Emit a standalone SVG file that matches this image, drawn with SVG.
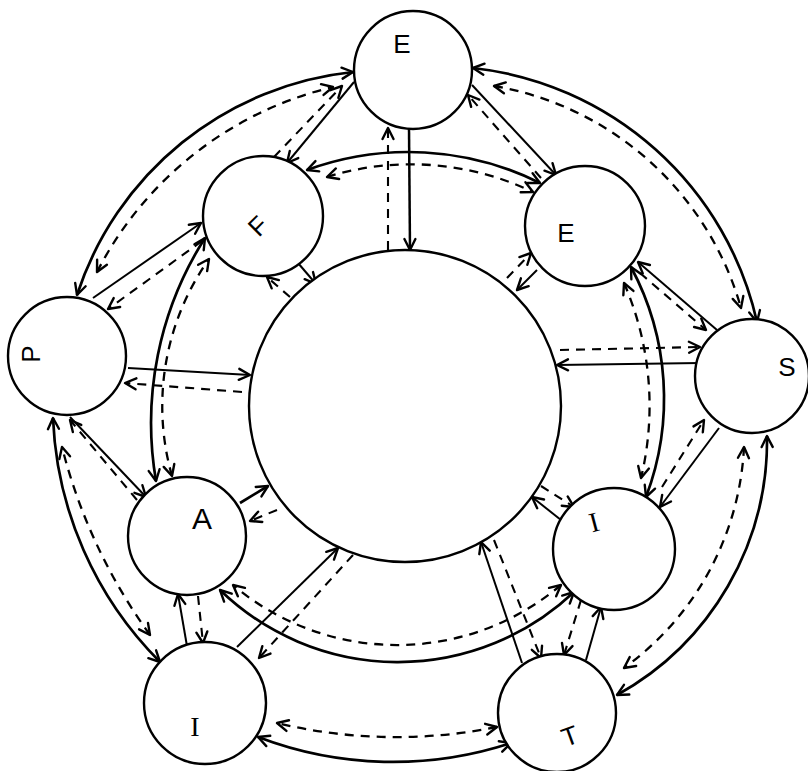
<svg xmlns="http://www.w3.org/2000/svg" width="808" height="771" viewBox="0 0 808 771">
<defs>
<marker id="ah" viewBox="-13 -8 15 16" refX="0" refY="0" markerWidth="15" markerHeight="16" markerUnits="userSpaceOnUse" orient="auto-start-reverse">
<path d="M-11,-5.5 L0,0 L-11,5.5" fill="none" stroke="#000" stroke-width="2.4" stroke-dasharray="none" stroke-linecap="round" stroke-linejoin="round"/>
</marker>
</defs>
<style>
.n{fill:#fff;stroke:#000;stroke-width:2.4}
.s{fill:none;stroke:#000;stroke-width:2;marker-end:url(#ah)}
.d{fill:none;stroke:#000;stroke-width:2.1;stroke-dasharray:9 7;marker-end:url(#ah)}
.arc{marker-start:url(#ah);stroke-width:2.7}
.d.arc{stroke-width:2.3}
.lbl{font-family:"Liberation Sans",Arial,sans-serif;font-size:26px;fill:#000;text-anchor:middle;dominant-baseline:central}
.ser{font-family:"Liberation Serif","Times New Roman",serif;font-size:28px}
</style>
<rect width="808" height="771" fill="#fff"/>
<g id="connectors">
<path class="s arc" d="M473,68 A328,328 0 0 1 757,322"/>
<path class="d arc" d="M494,86 A311,311 0 0 1 741,308"/>
<path class="s arc" d="M767,436 A291,291 0 0 1 617,695"/>
<path class="d arc" d="M744,447 A290,290 0 0 1 624,668"/>
<path class="s arc" d="M511,743 A378,378 0 0 1 258,737"/>
<path class="d arc" d="M497,727 A510,510 0 0 1 277,723"/>
<path class="s arc" d="M160,662 A366,366 0 0 1 53,418"/>
<path class="d arc" d="M150,635 A551,551 0 0 1 62,447"/>
<path class="s arc" d="M77,295 A326,326 0 0 1 353,72"/>
<path class="d arc" d="M97,272 A358,358 0 0 1 333,87"/>
<path class="s arc" d="M307,170 A295,295 0 0 1 540,183"/>
<path class="d arc" d="M327,177 A283,283 0 0 1 533,192"/>
<path class="s arc" d="M631,267 A278,278 0 0 1 646,497"/>
<path class="d arc" d="M624,283 A308,308 0 0 1 641,478"/>
<path class="s arc" d="M574,592 A256,256 0 0 1 220,590"/>
<path class="d arc" d="M561,585 A254,254 0 0 1 233,585"/>
<path class="s arc" d="M156,481 A344,344 0 0 1 205,238"/>
<path class="d arc" d="M172,476 A255,255 0 0 1 209,259"/>
<path class="s" d="M354,82 L287,163"/>
<path class="s" d="M472,85 L556,175"/>
<path class="s" d="M93,298 L201,223"/>
<path class="s" d="M70,417 L146,497"/>
<path class="s" d="M188,652 L178,594"/>
<path class="s" d="M237,647 L338,548"/>
<path class="s" d="M586,660 L601,607"/>
<path class="s" d="M522,663 L481,542"/>
<path class="s" d="M561,520 L532,497"/>
<path class="s" d="M719,428 L660,507"/>
<path class="s" d="M717,330 L638,262"/>
<path class="s" d="M700,363 L557,365"/>
<path class="s" d="M537,270 L517,290"/>
<path class="s" d="M409,128 L410,250" style="stroke-width:2.5"/>
<path class="s" d="M298,263 L316,284"/>
<path class="s" d="M128,368 L250,375"/>
<path class="s" d="M240,503 L268,486" style="stroke-width:2.7"/>
<path class="d" d="M274,157 L342,86"/>
<path class="d" d="M541,178 L468,95"/>
<path class="d" d="M202,241 L108,309"/>
<path class="d" d="M137,500 L70,420"/>
<path class="d" d="M198,596 L203,643"/>
<path class="d" d="M353,555 L259,658"/>
<path class="d" d="M581,600 L564,655"/>
<path class="d" d="M494,540 L541,658"/>
<path class="d" d="M541,486 L574,507"/>
<path class="d" d="M662,487 L704,420"/>
<path class="d" d="M640,273 L706,330"/>
<path class="d" d="M560,350 L700,347"/>
<path class="d" d="M507,278 L531,253"/>
<path class="d" d="M388,250 L388,128"/>
<path class="d" d="M290,297 L267,277"/>
<path class="d" d="M242,392 L125,383"/>
<path class="d" d="M277,510 L250,521"/>
</g>
<g id="center"><circle class="n" cx="405" cy="406" r="156"/></g>
<g id="node-E-top"><circle class="n" cx="413" cy="70" r="59"/><text class="lbl" x="402" y="44">E</text></g>
<g id="node-E-right"><circle class="n" cx="585" cy="226" r="60"/><text class="lbl" x="566" y="233">E</text></g>
<g id="node-F"><circle class="n" cx="263" cy="216" r="60"/><text class="lbl" transform="translate(258,226) rotate(-45)" x="0" y="0">F</text></g>
<g id="node-S"><circle class="n" cx="752" cy="376" r="57"/><text class="lbl" x="787" y="367">S</text></g>
<g id="node-P"><circle class="n" cx="67" cy="356" r="59"/><text class="lbl" transform="translate(31,354) rotate(-90)" x="0" y="0">P</text></g>
<g id="node-A"><circle class="n" cx="187" cy="536" r="59"/><text class="lbl" x="202" y="518" style="font-size:30px">A</text></g>
<g id="node-I-right"><circle class="n" cx="614" cy="549" r="61"/><text class="lbl ser" transform="translate(594,522) rotate(-15)" x="0" y="0">I</text></g>
<g id="node-T"><circle class="n" cx="557" cy="713" r="59"/><text class="lbl" transform="translate(570,736) rotate(-20)" x="0" y="0">T</text></g>
<g id="node-I-bottom"><circle class="n" cx="205" cy="703" r="61"/><text class="lbl ser" x="195" y="726">I</text></g>
</svg>
